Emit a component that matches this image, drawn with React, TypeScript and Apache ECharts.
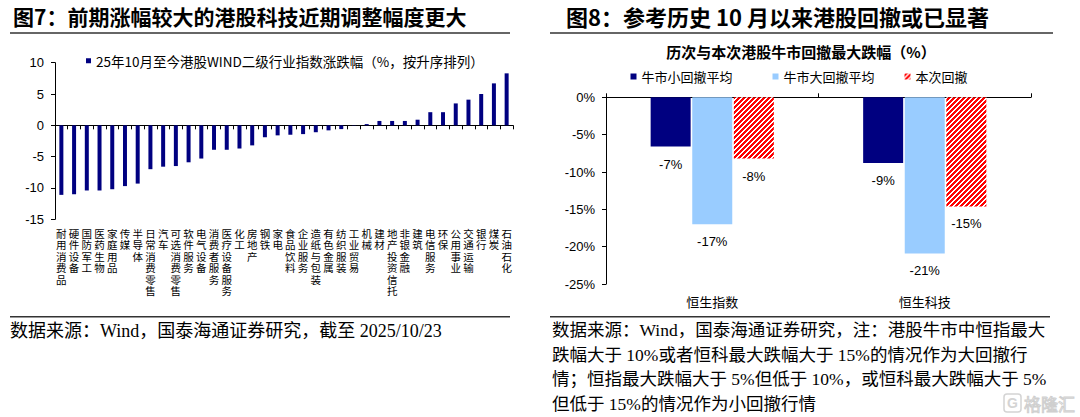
import React, { useEffect, useRef } from 'react';
import * as echarts from 'echarts';

// ---------- data ----------
const industries = [
  '耐用消费品', '硬件设备', '国防军工', '医药生物', '家庭用品', '传媒', '半导体', '日常消费零售',
  '汽车', '可选消费零售', '软件服务', '电气设备', '消费者服务', '医疗设备服务', '化工', '房地产',
  '钢铁', '家电', '食品饮料', '企业服务', '造纸与包装', '有色金属', '纺织服装', '工业贸易',
  '机械', '建材', '地产投资信托', '非银金融', '建筑', '电信服务', '环保', '公用事业',
  '交通运输', '银行', '煤炭', '石油石化',
];
const industryChange = [
  -11.1, -11.0, -10.4, -10.4, -10.2, -9.7, -9.3, -7.0,
  -6.6, -6.5, -5.9, -5.3, -3.9, -3.9, -3.7, -3.2,
  -1.9, -1.6, -1.5, -1.4, -1.1, -0.8, -0.6, -0.05,
  0.2, 0.7, 0.7, 0.7, 0.9, 2.1, 2.1, 3.5,
  4.1, 5.0, 6.7, 8.3,
];
const leftSeriesName = '25年10月至今港股WIND二级行业指数涨跌幅（%，按升序排列）';

const indices = ['恒生指数', '恒生科技'];
const smallPullbackName = '牛市小回撤平均';
const bigPullbackName = '牛市大回撤平均';
const currentPullbackName = '本次回撤';
const smallPullback = [-6.6, -8.8];
const bigPullback = [-17.0, -20.9];
const currentPullback = [-8.2, -14.6];

const title7 = '图7：前期涨幅较大的港股科技近期调整幅度更大';
const title8 = '图8：参考历史 10 月以来港股回撤或已显著';
const chartTitle8 = '历次与本次港股牛市回撤最大跌幅（%）';
const sourceLeft = '数据来源：Wind，国泰海通证券研究，截至 2025/10/23';
const sourceRightLines = [
  '数据来源：Wind，国泰海通证券研究，注：港股牛市中恒指最大',
  '跌幅大于 10%或者恒科最大跌幅大于 15%的情况作为大回撤行',
  '情；恒指最大跌幅大于 5%但低于 10%，或恒科最大跌幅大于 5%',
  '但低于 15%的情况作为小回撤行情',
];

// ---------- styles ----------
const CJK = "'Noto Sans CJK SC', sans-serif";
const ARIAL = "'Liberation Sans', Arial, sans-serif";
const SERIF = "'Liberation Serif', 'Noto Sans CJK SC', serif";
const NAVY = '#000080';
const LIGHT_BLUE = '#99CCFF';

function makeHatch(): HTMLCanvasElement {
  const c = document.createElement('canvas');
  const n = 5;
  c.width = n;
  c.height = n;
  const ctx = c.getContext('2d')!;
  ctx.fillStyle = '#ffffff';
  ctx.fillRect(0, 0, n, n);
  ctx.fillStyle = '#ff0000';
  for (let x = 0; x < n; x++) {
    for (let y = 0; y < n; y++) {
      if ((x + y) % n < 3) ctx.fillRect(x, y, 1, 1);
    }
  }
  return c;
}

export default function App() {
  const ref = useRef<HTMLDivElement>(null);

  useEffect(() => {
    if (!ref.current) return;
    const chart = echarts.init(ref.current, null, { renderer: 'svg' });
    const hatch = makeHatch();
    const hatchColor: any = { image: hatch, repeat: 'repeat', imageWidth: 5, imageHeight: 5 };

    const axisColor = '#000';
    const rightLabel = {
      show: true,
      position: 'bottom',
      distance: 11,
      fontSize: 13,
      fontFamily: ARIAL,
      color: '#000',
      formatter: (p: any) => Number(p.value).toFixed(0) + '%',
    };

    const legendText = { fontSize: 13, fontFamily: CJK, color: '#000' };

    const option: any = {
      animation: false,
      backgroundColor: '#fff',
      grid: [
        { left: 55, top: 62.7, width: 458, height: 156.6 },
        { left: 606, top: 97.3, width: 425, height: 186.8 },
      ],
      xAxis: [
        {
          gridIndex: 0, type: 'category', data: industries, position: 'bottom',
          axisLine: { show: true, onZero: true, lineStyle: { color: axisColor, width: 1 } },
          axisTick: { show: true, interval: 0, length: 4, lineStyle: { color: axisColor } },
          axisLabel: { show: false },
          splitLine: { show: false },
        },
        {
          gridIndex: 0, type: 'category', data: industries, position: 'bottom',
          axisLine: { show: false, onZero: false },
          axisTick: { show: false },
          axisLabel: {
            show: true, interval: 0, hideOverlap: false,
            formatter: (v: string) => v.split('').join('\n'),
            fontSize: 10.5, lineHeight: 11.5, fontFamily: CJK, color: '#000',
            margin: 8, verticalAlign: 'top',
          },
          splitLine: { show: false },
        },
        {
          gridIndex: 1, type: 'category', data: indices, position: 'top',
          axisLine: { show: true, onZero: false, lineStyle: { color: axisColor, width: 1 } },
          axisTick: { show: true, length: 4, lineStyle: { color: axisColor } },
          axisLabel: { show: false },
          splitLine: { show: false },
        },
        {
          gridIndex: 1, type: 'category', data: indices, position: 'bottom',
          axisLine: { show: false, onZero: false },
          axisTick: { show: false },
          axisLabel: { show: true, fontSize: 13, fontFamily: CJK, color: '#000', margin: 11 },
          splitLine: { show: false },
        },
      ],
      yAxis: [
        {
          gridIndex: 0, type: 'value', min: -15, max: 10, interval: 5,
          axisLine: { show: true, lineStyle: { color: axisColor, width: 1 } },
          axisTick: { show: true, length: 4, lineStyle: { color: axisColor } },
          axisLabel: { fontSize: 13, fontFamily: ARIAL, color: '#000', margin: 11 },
          splitLine: { show: false },
        },
        {
          gridIndex: 1, type: 'value', min: -25, max: 0, interval: 5,
          axisLine: { show: true, lineStyle: { color: axisColor, width: 1 } },
          axisTick: { show: true, length: 4, lineStyle: { color: axisColor } },
          axisLabel: { fontSize: 13, fontFamily: ARIAL, color: '#000', margin: 11, formatter: '{value}%' },
          splitLine: { show: false },
        },
      ],
      legend: [
        {
          left: 86, top: 54, padding: 0, itemWidth: 5, itemHeight: 5, icon: 'rect',
          selectedMode: false, data: [leftSeriesName],
          textStyle: { ...legendText, fontSize: 13.5 },
        },
        {
          left: 630.5, top: 70, padding: 0, itemWidth: 6, itemHeight: 6, icon: 'rect',
          selectedMode: false, data: [smallPullbackName], textStyle: legendText,
        },
        {
          left: 772.5, top: 70, padding: 0, itemWidth: 6, itemHeight: 6, icon: 'rect',
          selectedMode: false, data: [bigPullbackName], textStyle: legendText,
        },
        {
          left: 904.5, top: 70, padding: 0, itemWidth: 6, itemHeight: 6, icon: 'rect',
          selectedMode: false, data: [currentPullbackName], textStyle: legendText,
        },
      ],
      series: [
        {
          name: leftSeriesName, type: 'bar', xAxisIndex: 0, yAxisIndex: 0,
          data: industryChange, barWidth: 4, itemStyle: { color: NAVY },
        },
        {
          name: smallPullbackName, type: 'bar', xAxisIndex: 3, yAxisIndex: 1,
          data: smallPullback, barWidth: 40, barGap: '4%', itemStyle: { color: NAVY }, label: rightLabel,
        },
        {
          name: bigPullbackName, type: 'bar', xAxisIndex: 3, yAxisIndex: 1,
          data: bigPullback, barWidth: 40, barGap: '4%', itemStyle: { color: LIGHT_BLUE }, label: rightLabel,
        },
        {
          name: currentPullbackName, type: 'bar', xAxisIndex: 3, yAxisIndex: 1,
          data: currentPullback, barWidth: 40, barGap: '4%', itemStyle: { color: hatchColor }, label: rightLabel,
        },
      ],
      graphic: [
        {
          type: 'text', x: 13, y: 16,
          style: { text: title7, fontSize: 21, fontWeight: 'bold', fontFamily: CJK, fill: '#000', verticalAlign: 'middle', align: 'left' },
        },
        { type: 'line', shape: { x1: 10, y1: 33, x2: 510, y2: 33 }, style: { stroke: '#333', lineWidth: 1.5 } },
        {
          type: 'text', x: 566, y: 16,
          style: { text: title8, fontSize: 22, fontWeight: 'bold', fontFamily: CJK, fill: '#000', verticalAlign: 'middle', align: 'left' },
        },
        { type: 'line', shape: { x1: 550, y1: 33, x2: 1053, y2: 33 }, style: { stroke: '#333', lineWidth: 1.5 } },
        {
          type: 'text', x: 801, y: 51,
          style: { text: chartTitle8, fontSize: 15, fontWeight: 'bold', fontFamily: CJK, fill: '#000', verticalAlign: 'middle', align: 'center' },
        },
        { type: 'line', shape: { x1: 10, y1: 316.7, x2: 510, y2: 316.7 }, style: { stroke: '#333', lineWidth: 1.5 } },
        { type: 'line', shape: { x1: 550, y1: 316.7, x2: 1050, y2: 316.7 }, style: { stroke: '#333', lineWidth: 1.5 } },
        {
          type: 'text', x: 10, y: 331,
          style: { text: sourceLeft, fontSize: 18, fontFamily: SERIF, fill: '#000', verticalAlign: 'middle', align: 'left' },
        },
        ...sourceRightLines.map((t, i) => ({
          type: 'text', x: 552, y: 330 + i * 24.5,
          style: { text: t, fontSize: 17.5, fontFamily: SERIF, fill: '#000', verticalAlign: 'middle', align: 'left' },
        })),
        {
          type: 'rect', shape: { x: 1004, y: 394, width: 17, height: 18, r: 3 },
          style: { fill: 'none', stroke: '#d4d4d4', lineWidth: 1.5 },
        },
        {
          type: 'text', x: 1012.5, y: 403,
          style: { text: 'G', fontSize: 14, fontWeight: 'bold', fontFamily: ARIAL, fill: '#d4d4d4', verticalAlign: 'middle', align: 'center' },
        },
        {
          type: 'text', x: 1024, y: 403,
          style: { text: '格隆汇', fontSize: 17, fontFamily: CJK, fill: 'none', stroke: '#cfcfcf', lineWidth: 1, verticalAlign: 'middle', align: 'left' },
        },
      ],
    };

    chart.setOption(option);
    return () => chart.dispose();
  }, []);

  return (
    <div
      ref={ref}
      style={{ position: 'fixed', left: 0, top: 0, width: 1080, height: 417, background: '#fff' }}
    />
  );
}
